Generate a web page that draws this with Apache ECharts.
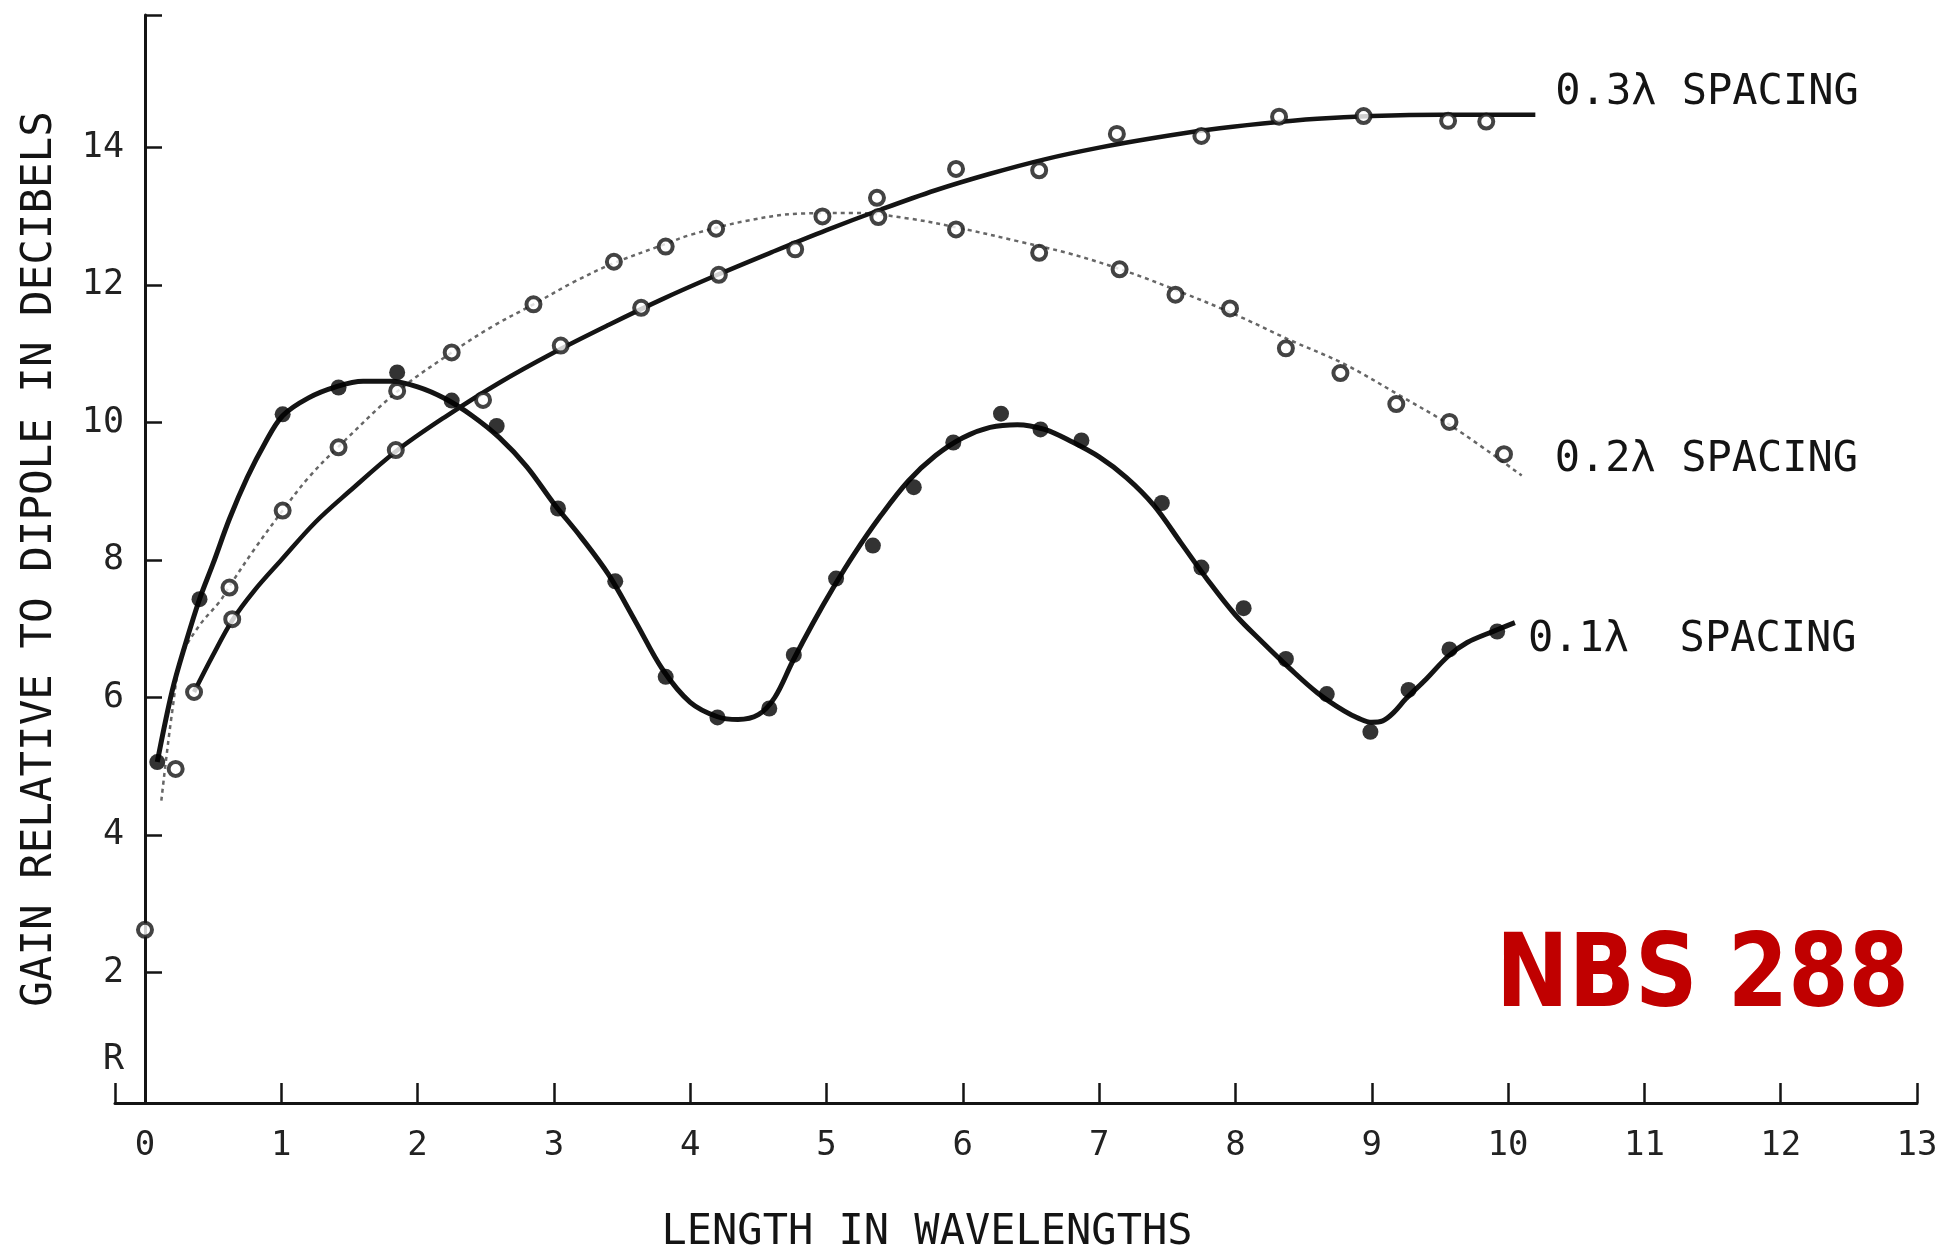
<!DOCTYPE html>
<html>
<head>
<meta charset="utf-8">
<script src="https://cdn.jsdelivr.net/npm/echarts@6/dist/echarts.min.js"></script>
<style>
html,body{margin:0;padding:0;background:#fff;}
#chart{width:1957px;height:1253px;}
</style>
</head>
<body>
<div id="chart"></div>
<script>
// ---- Data ----
const seriesNames = ['0.3λ SPACING', '0.2λ SPACING', '0.1λ  SPACING'];

// 0.3λ spacing: measured points (open circles) and drawn curve
const pts03 = [[0.225,4.96],[0.36,6.08],[0.64,7.14],[1.84,9.6],[2.48,10.33],[3.05,11.12],[3.64,11.67],[4.21,12.15],[4.77,12.52],[5.37,13.27],[5.95,13.69],[6.56,13.67],[7.13,14.2],[7.75,14.17],[8.32,14.45],[8.94,14.46],[9.56,14.39],[9.84,14.38]];
const curve03 = [[0.36,6.08],[0.5,6.62],[0.64,7.12],[0.8,7.55],[1.0,8.0],[1.25,8.55],[1.5,9.0],[1.84,9.58],[2.2,10.08],[2.6,10.58],[3.0,11.02],[3.4,11.42],[3.8,11.8],[4.2,12.15],[4.6,12.48],[5.0,12.8],[5.4,13.1],[5.8,13.38],[6.2,13.62],[6.6,13.83],[7.0,14.0],[7.4,14.14],[7.8,14.26],[8.2,14.35],[8.6,14.42],[9.0,14.46],[9.5,14.48],[10.2,14.48]];

// 0.2λ spacing: measured points (open circles) and dotted curve
const pts02 = [[0,2.62],[0.62,7.6],[1.01,8.72],[1.42,9.64],[1.85,10.46],[2.25,11.02],[2.85,11.72],[3.44,12.34],[3.82,12.56],[4.19,12.82],[4.97,13.0],[5.38,12.99],[5.95,12.81],[6.56,12.47],[7.15,12.23],[7.56,11.86],[7.96,11.66],[8.37,11.08],[8.77,10.72],[9.18,10.27],[9.57,10.01],[9.97,9.54]];
const curve02 = [[0.12,4.5],[0.2,5.8],[0.27,6.6],[0.4,7.05],[0.55,7.4],[0.62,7.62],[0.8,8.15],[1.01,8.72],[1.2,9.2],[1.42,9.65],[1.85,10.45],[2.25,11.02],[2.55,11.4],[2.85,11.72],[3.15,12.05],[3.44,12.32],[3.82,12.6],[4.0,12.73],[4.4,12.93],[4.8,13.04],[5.2,13.05],[5.6,12.97],[6.0,12.82],[6.4,12.64],[6.8,12.45],[7.2,12.2],[7.6,11.9],[8.0,11.57],[8.4,11.2],[8.8,10.85],[9.2,10.4],[9.6,9.93],[10.1,9.23]];

// 0.1λ spacing: measured points (filled dots) and drawn curve
const pts01 = [[0.09,5.06],[0.40,7.43],[1.01,10.12],[1.42,10.51],[1.85,10.73],[2.25,10.32],[2.58,9.95],[3.03,8.75],[3.45,7.69],[3.82,6.30],[4.20,5.71],[4.58,5.84],[4.76,6.62],[5.07,7.73],[5.34,8.21],[5.64,9.06],[5.93,9.71],[6.28,10.13],[6.57,9.9],[6.87,9.74],[7.46,8.83],[7.75,7.89],[8.06,7.30],[8.37,6.56],[8.67,6.05],[8.99,5.50],[9.27,6.11],[9.57,6.70],[9.92,6.96]];
const curve01 = [[0.09,5.06],[0.2,6.1],[0.3,6.8],[0.4,7.43],[0.5,7.95],[0.62,8.6],[0.75,9.2],[0.88,9.7],[1.01,10.1],[1.2,10.36],[1.4,10.52],[1.6,10.6],[1.8,10.6],[2.0,10.52],[2.2,10.35],[2.4,10.1],[2.6,9.78],[2.8,9.36],[3.0,8.82],[3.2,8.33],[3.4,7.79],[3.6,7.1],[3.8,6.4],[4.0,5.93],[4.2,5.72],[4.35,5.68],[4.5,5.75],[4.62,6.0],[4.75,6.52],[4.9,7.08],[5.05,7.6],[5.2,8.08],[5.4,8.65],[5.6,9.15],[5.8,9.52],[6.0,9.78],[6.2,9.93],[6.4,9.97],[6.6,9.9],[6.8,9.72],[7.0,9.5],[7.2,9.2],[7.4,8.8],[7.6,8.25],[7.8,7.7],[8.0,7.2],[8.2,6.8],[8.4,6.42],[8.6,6.07],[8.8,5.8],[8.9,5.7],[9.0,5.64],[9.08,5.66],[9.16,5.78],[9.25,5.98],[9.4,6.27],[9.56,6.6],[9.7,6.8],[9.9,6.97],[10.05,7.09]];

// Axis ticks and labels
const xTickValues = [-0.22,0,1,2,3,4,5,6,7,8,9,10,11,12,13];
const xLabelValues = [0,1,2,3,4,5,6,7,8,9,10,11,12,13];
const yTickValues = [2,4,6,8,10,12,14,15.93];
const yLabelValues = [0.73,2,4,6,8,10,12,14];
const yLabelTexts = ['R','2','4','6','8','10','12','14'];
const xTitle = 'LENGTH IN WAVELENGTHS';
const yTitle = 'GAIN RELATIVE TO DIPOLE IN DECIBELS';
const stamp = 'NBS 288';

// ---- Chart ----
const MONO = '"DejaVu Sans Mono", monospace';
const INK = '#141414';
const chart = echarts.init(document.getElementById('chart'));

function endLbl(text, dist, vAlign, lh) {
  return {
    show: true,
    formatter: text,
    distance: dist,
    verticalAlign: vAlign,
    lineHeight: lh,
    fontFamily: MONO,
    fontSize: 42,
    color: INK
  };
}

chart.setOption({
  animation: false,
  backgroundColor: '#ffffff',
  grid: { left: 115, right: 40, top: 15, bottom: 150, containLabel: false, outerBoundsMode: 'none' },
  xAxis: {
    type: 'value',
    min: -0.22, max: 13,
    name: xTitle,
    nameLocation: 'middle',
    nameGap: 109,
    nameMoveOverlap: false,
    nameTextStyle: { fontFamily: MONO, fontSize: 42, lineHeight: 42, color: INK, padding: [0, 178, 0, 0] },
    axisLine: { show: true, onZero: false, lineStyle: { color: INK, width: 3 } },
    axisTick: { show: true, inside: true, length: 20, customValues: xTickValues, lineStyle: { color: INK, width: 2.5 } },
    axisLabel: { show: true, customValues: xLabelValues, margin: 26, fontFamily: MONO, fontSize: 34, color: '#222' },
    splitLine: { show: false }
  },
  yAxis: {
    type: 'value',
    min: 0.1, max: 15.93,
    offset: -30,
    name: yTitle,
    nameLocation: 'middle',
    nameGap: 84,
    nameRotate: 90,
    nameMoveOverlap: false,
    nameTextStyle: { fontFamily: MONO, fontSize: 42.5, lineHeight: 42, color: INK },
    axisLine: { show: true, onZero: false, lineStyle: { color: INK, width: 3 } },
    axisTick: { show: true, inside: true, length: 17, customValues: yTickValues, lineStyle: { color: INK, width: 2.5 } },
    axisLabel: {
      show: true, customValues: yLabelValues, margin: 21, fontFamily: MONO, fontSize: 35, color: '#222',
      formatter: function (v) { const i = yLabelValues.indexOf(v); return i >= 0 ? yLabelTexts[i] : ''; }
    },
    splitLine: { show: false }
  },
  series: [
    {
      name: seriesNames[0], type: 'line', data: curve03, smooth: 0.35, symbol: 'none', showSymbol: false,
      lineStyle: { color: INK, width: 4.5 }, z: 3,
      endLabel: endLbl(seriesNames[0], 20, 'bottom', 44)
    },
    {
      name: seriesNames[1], type: 'line', data: curve02, smooth: 0.35, symbol: 'none', showSymbol: false,
      lineStyle: { color: '#666', width: 2.5, type: [4, 4] }, z: 2,
      endLabel: endLbl(seriesNames[1], 33, 'bottom', 30)
    },
    {
      name: seriesNames[2], type: 'line', data: curve01, smooth: 0.35, symbol: 'none', showSymbol: false,
      lineStyle: { color: INK, width: 5 }, z: 3,
      endLabel: endLbl(seriesNames[2], 13, 'top', 36)
    },
    {
      name: seriesNames[0] + ' points', type: 'scatter', data: pts03, symbol: 'circle', symbolSize: 14,
      itemStyle: { color: '#fff', borderColor: INK, borderWidth: 4 }, z: 5
    },
    {
      name: seriesNames[1] + ' points', type: 'scatter', data: pts02, symbol: 'circle', symbolSize: 14,
      itemStyle: { color: '#fff', borderColor: INK, borderWidth: 4 }, z: 5
    },
    {
      name: seriesNames[2] + ' points', type: 'scatter', data: pts01, symbol: 'circle', symbolSize: 16,
      itemStyle: { color: '#000' }, z: 5
    }
  ],
  graphic: [
    {
      type: 'text', x: 1496, y: 980, scaleX: 0.86, z: 10,
      style: { text: stamp, fontFamily: '"DejaVu Sans", sans-serif', fontWeight: 'bold', fontSize: 101, fill: '#c00000', textAlign: 'left', textVerticalAlign: 'middle' }
    }
  ]
});
</script>
</body>
</html>
